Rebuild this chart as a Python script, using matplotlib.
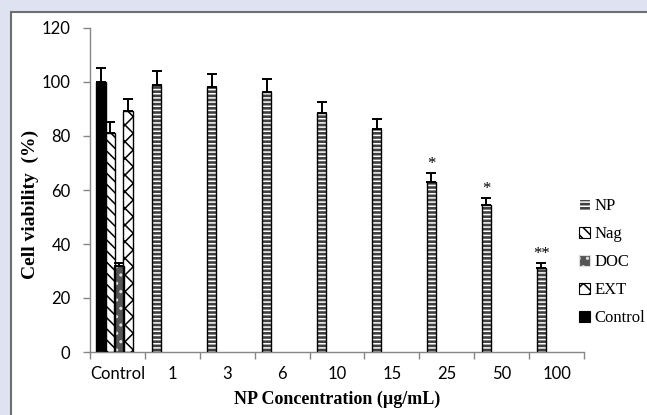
import numpy as np
import matplotlib.pyplot as plt
from matplotlib.patches import Rectangle, Patch

categories = ["Control", "1", "3", "6", "10", "15", "25", "50", "100"]

# control group bars
ctrl_names = ["Control", "Nag", "DOC", "EXT"]
ctrl_values = [100, 81, 32, 89.3]
ctrl_err = [5.2, 4.2, 1.0, 4.3]

# NP concentration series (categories 1..100)
np_values = [99, 98, 96.4, 88.4, 82.5, 63.1, 54.4, 31.2]
np_err = [5.0, 5.1, 4.6, 4.1, 3.7, 3.1, 2.5, 1.6]
stars = {6: "*", 7: "*", 8: "**"}

BG = "#dfe3f1"
AXC = "#868686"

fig = plt.figure(figsize=(6.47, 4.15), dpi=100, facecolor=BG)
fig.patches.append(Rectangle((11 / 647, -0.1), 1.2, (415 - 12) / 415 + 0.1,
                             transform=fig.transFigure, facecolor="white",
                             edgecolor="#6e6e6e", linewidth=1.5, zorder=-5))
ax = fig.add_axes([90 / 647, 63 / 415, 494 / 647, 324 / 415])
ax.set_facecolor("none")

w = 0.165
x = np.arange(len(categories))


def hatched_bar(xpos, h, face, hatch, hcolor, err):
    ax.bar(xpos, h, w, color=face, edgecolor=hcolor, hatch=hatch, linewidth=0, zorder=2)
    ax.bar(xpos, h, w, fill=False, edgecolor="black", linewidth=1.0, zorder=3)
    ax.errorbar(xpos, h, yerr=[[0], [err]], fmt="none", ecolor="black",
                elinewidth=1.4, capsize=3.5, capthick=1.4, zorder=4)


plt.rcParams["hatch.linewidth"] = 1.1
ctrl_off = [-0.30, -0.136, 0.028, 0.192]
ctrl_style = [("black", "", "black"),
              ("white", "\\\\\\", "black"),
              ("#555555", "..", "#dddddd"),
              ("white", "xx", "black")]
for off, v, e, (fc, hs, hc) in zip(ctrl_off, ctrl_values, ctrl_err, ctrl_style):
    hatched_bar(x[0] + off, v, fc, hs, hc, e)

for i, (v, e) in enumerate(zip(np_values, np_err), start=1):
    hatched_bar(x[i] - 0.28, v, "#404040", "----", "white", e)
    if i in stars:
        ax.text(x[i] - 0.28, v + e + 3.4, stars[i], ha="center", va="center",
                fontsize=12, family="Liberation Serif")

ax.set_xlim(-0.5, len(categories) - 0.5)
ax.set_ylim(0, 120)
ax.set_yticks(np.arange(0, 121, 20))
ax.set_xticks(x)
ax.set_xticklabels(categories)
ax.set_xticks(np.arange(-0.5, len(categories), 1), minor=True)
ax.tick_params(axis="x", which="major", length=0, pad=10)
ax.tick_params(axis="x", which="minor", length=5, color=AXC, width=1)
ax.tick_params(axis="y", length=5, color=AXC, width=1, pad=9)
for lab in ax.get_xticklabels() + ax.get_yticklabels():
    lab.set_family("Lato")
    lab.set_fontsize(12)
for s in ["top", "right"]:
    ax.spines[s].set_visible(False)
for s in ["left", "bottom"]:
    ax.spines[s].set_color(AXC)
    ax.spines[s].set_linewidth(1)

ax.set_ylabel("Cell viability  (%)", family="Liberation Serif", fontweight="bold",
              fontsize=14)
ax.yaxis.set_label_coords(-0.104, 0.454)
ax.set_xlabel("NP Concentration (\u00b5g/mL)", family="Liberation Serif",
              fontweight="bold", fontsize=13, labelpad=6)

handles = [
    Patch(facecolor="#404040", edgecolor="white", hatch="----", label="NP"),
    Patch(facecolor="white", edgecolor="black", hatch="\\\\\\", label="Nag"),
    Patch(facecolor="#555555", edgecolor="#dddddd", hatch="..", label="DOC"),
    Patch(facecolor="white", edgecolor="black", hatch="xx", label="EXT"),
    Patch(facecolor="black", edgecolor="black", label="Control"),
]
leg = ax.legend(handles=handles, loc="center left", bbox_to_anchor=(0.99, 0.278),
                frameon=False, borderaxespad=0, borderpad=0,
                handlelength=0.65, handleheight=0.65,
                handletextpad=0.25, labelspacing=0.72,
                prop={"family": "Liberation Serif", "size": 12})
for p in leg.get_patches():
    p.set_linewidth(0.8)

fig.savefig("out.png", dpi=100, facecolor=BG)
